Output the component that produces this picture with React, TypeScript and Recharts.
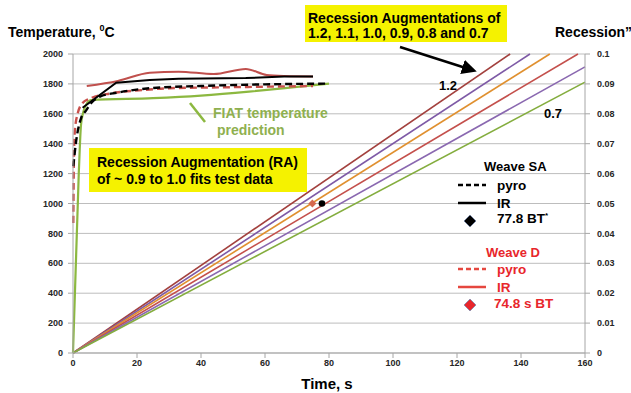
import { CartesianGrid, ComposedChart, Line, Scatter, XAxis, YAxis } from "recharts";

const timeTicks = [0, 20, 40, 60, 80, 100, 120, 140, 160];
const tempTicks = [0, 200, 400, 600, 800, 1000, 1200, 1400, 1600, 1800, 2000];
const recessionTicks = [0, 0.01, 0.02, 0.03, 0.04, 0.05, 0.06, 0.07, 0.08, 0.09, 0.1];

// Weave SA (black)
const saPyroTime = [0.1, 1, 2.5, 4, 6, 8.4, 14, 24, 40, 60, 80];
const saPyroTemp = [1250, 1420, 1570, 1620, 1680, 1715, 1742, 1771, 1786, 1797, 1802];
const saIrTime = [3, 13.5, 24, 33, 54, 66, 75];
const saIrTemp = [1640, 1808, 1826, 1835, 1839, 1850, 1850];

// Weave D (red)
const dPyroTime = [0.1, 0.3, 0.6, 1.5, 3, 5, 12, 22, 30, 50, 75];
const dPyroTemp = [870, 1320, 1490, 1605, 1672, 1699, 1737, 1759, 1771, 1778, 1786];
const dIrTime = [4.3, 14, 24, 33, 44, 54, 60.5, 66, 75];
const dIrTemp = [1786, 1820, 1875, 1882, 1866, 1900, 1860, 1853, 1850];

// FIAT prediction (green)
const fiatTime = [0, 1.8, 2.5, 3.2, 4.1, 5.6, 25, 40, 55, 70, 80];
const fiatTemp = [0, 1200, 1525, 1610, 1660, 1692, 1705, 1722, 1748, 1780, 1802];

// recession lines, each from the origin to its end point
const augmentations = ["1.2", "1.1", "1.0", "0.9", "0.8", "0.7"];
const recessionEndTime = [136.6, 142.8, 149, 157.8, 160, 160];
const recessionEndValue = [0.1, 0.1, 0.1, 0.1, 0.0957, 0.0906];
const recessionColors = ["#a3413e", "#7e5aa6", "#e0902f", "#c4504c", "#8a68b0", "#84ad3e"];

// burn-through markers
const btDTime = [74.8];
const btDRecession = [0.05];
const btSaTime = [77.8];
const btSaRecession = [0.05];

const pts = (ts: number[], vs: number[]) => ts.map((t, i) => ({ t, v: vs[i] }));

const tick = { fontSize: 9, fontWeight: 700, fill: "#262626", fontFamily: "Liberation Sans, Arial" };
const axisGray = "#a6a6a6";
const font = "Liberation Sans, Arial, sans-serif";

function BlackDot(p: any) {
  return <circle cx={p.cx} cy={p.cy} r={3.3} fill="#000" />;
}

function RedDiamond(p: any) {
  const { cx, cy } = p;
  return <path d={`M${cx},${cy - 4} L${cx + 4},${cy} L${cx},${cy + 4} L${cx - 4},${cy} Z`} fill="#d5684f" />;
}

export default function App() {
  return (
    <div style={{ position: "absolute", left: 0, top: 0, width: 631, height: 393, background: "#fff" }}>
      <ComposedChart width={631} height={393} margin={{ top: 54, right: 0, bottom: 0, left: 0 }}>
        <CartesianGrid yAxisId="temp" vertical={false} stroke="#bdbdbd" />
        <XAxis
          dataKey="t"
          type="number"
          domain={[0, 160]}
          ticks={timeTicks}
          height={40}
          tick={tick}
          tickSize={5}
          stroke={axisGray}
          allowDuplicatedCategory={false}
        />
        <YAxis
          yAxisId="temp"
          orientation="left"
          domain={[0, 2000]}
          ticks={tempTicks}
          width={73}
          tick={tick}
          tickSize={5}
          tickMargin={5}
          stroke={axisGray}
        />
        <YAxis
          yAxisId="rec"
          orientation="right"
          domain={[0, 0.1]}
          ticks={recessionTicks}
          width={46}
          tick={tick}
          tickSize={5}
          tickMargin={7}
          stroke={axisGray}
        />
        {augmentations.map((a, i) => (
          <Line
            key={a}
            yAxisId="rec"
            data={pts([0, recessionEndTime[i]], [0, recessionEndValue[i]])}
            dataKey="v"
            stroke={recessionColors[i]}
            strokeWidth={1.6}
            dot={false}
            type="linear"
            isAnimationActive={false}
          />
        ))}
        <Line yAxisId="temp" data={pts(fiatTime, fiatTemp)} dataKey="v" stroke="#8cb840" strokeWidth={2.2} dot={false} type="monotone" isAnimationActive={false} />
        <Line yAxisId="temp" data={pts(dIrTime, dIrTemp)} dataKey="v" stroke="#c0504d" strokeWidth={2} dot={false} type="monotone" isAnimationActive={false} />
        <Line yAxisId="temp" data={pts(dPyroTime, dPyroTemp)} dataKey="v" stroke="#c9504c" strokeWidth={2.4} strokeDasharray="7 4" dot={false} type="monotone" isAnimationActive={false} />
        <Line yAxisId="temp" data={pts(saIrTime, saIrTemp)} dataKey="v" stroke="#000" strokeWidth={2} dot={false} type="linear" isAnimationActive={false} />
        <Line yAxisId="temp" data={pts(saPyroTime, saPyroTemp)} dataKey="v" stroke="#000" strokeWidth={2.4} strokeDasharray="7 4" dot={false} type="monotone" isAnimationActive={false} />
        <Scatter yAxisId="rec" data={pts(btDTime, btDRecession)} dataKey="v" shape={RedDiamond} isAnimationActive={false} />
        <Scatter yAxisId="rec" data={pts(btSaTime, btSaRecession)} dataKey="v" shape={BlackDot} isAnimationActive={false} />
      </ComposedChart>

      <svg width={631} height={393} style={{ position: "absolute", left: 0, top: 0, pointerEvents: "none" }} fontFamily={font} fontWeight={700}>
        <defs>
          <marker id="arrowHead" markerWidth="6" markerHeight="6" refX="4" refY="3" orient="auto">
            <path d="M0,0 L6,3 L0,6 Z" fill="#000" />
          </marker>
        </defs>

        <text x={8} y={37} fontSize={14} fill="#000">
          Temperature, <tspan fontSize={9} dy={-6}>0</tspan><tspan dy={6}>C</tspan>
        </text>
        <text x={555} y={37} fontSize={14} fill="#000">Recession”</text>
        <text x={327} y={389} fontSize={15} fill="#000" textAnchor="middle">Time, s</text>

        <rect x={305} y={5} width={202} height={37} fill="#f5f200" />
        <text x={308} y={23} fontSize={14} fill="#000">Recession Augmentations of</text>
        <text x={308} y={38} fontSize={14} fill="#000">1.2, 1.1, 1.0, 0.9, 0.8 and 0.7</text>
        <line x1={400} y1={47} x2={472} y2={70} stroke="#000" strokeWidth={2.5} markerEnd="url(#arrowHead)" />

        <text x={448} y={90} fontSize={13} fill="#000" textAnchor="middle">1.2</text>
        <text x={553} y={118} fontSize={13} fill="#000" textAnchor="middle">0.7</text>

        <rect x={89} y={148} width={218} height={44} fill="#f5f200" />
        <text x={97} y={167} fontSize={14} fill="#000">Recession Augmentation (RA)</text>
        <text x={97} y={184} fontSize={14} fill="#000">of ~ 0.9 to 1.0 fits test data</text>

        <line x1={190} y1={103} x2={205} y2={122} stroke="#8cb840" strokeWidth={2.5} />
        <text x={213} y={118} fontSize={14} fill="#8fb04f">FIAT temperature</text>
        <text x={217} y={135} fontSize={14} fill="#8fb04f">prediction</text>

        <text x={484} y={171} fontSize={13} fill="#000">Weave SA</text>
        <line x1={458} y1={185} x2={486} y2={185} stroke="#000" strokeWidth={2.5} strokeDasharray="5 3" />
        <text x={497} y={190} fontSize={13.5} fill="#000">pyro</text>
        <line x1={458} y1={203} x2={486} y2={203} stroke="#000" strokeWidth={2.5} />
        <text x={497} y={208} fontSize={13.5} fill="#000">IR</text>
        <path d="M470,215 L476,221 L470,227 L464,221 Z" fill="#000" stroke="#6d7fa0" strokeWidth={0.8} />
        <text x={497} y={223} fontSize={13.5} fill="#000">
          77.8 BT<tspan fontSize={8} dy={-5}>*</tspan>
        </text>

        <text x={486} y={257} fontSize={13} fill="#e8262b">Weave D</text>
        <line x1={458} y1={269} x2={486} y2={269} stroke="#e5473f" strokeWidth={2.5} strokeDasharray="5 3" />
        <text x={497} y={274} fontSize={13.5} fill="#e8262b">pyro</text>
        <line x1={458} y1={287} x2={486} y2={287} stroke="#e5473f" strokeWidth={2.5} />
        <text x={497} y={292} fontSize={13.5} fill="#e8262b">IR</text>
        <path d="M470,299 L476,305 L470,311 L464,305 Z" fill="#e8262b" stroke="#7d8bb0" strokeWidth={0.8} />
        <text x={494} y={308} fontSize={13.5} fill="#e8262b">74.8 s BT</text>
      </svg>
    </div>
  );
}
